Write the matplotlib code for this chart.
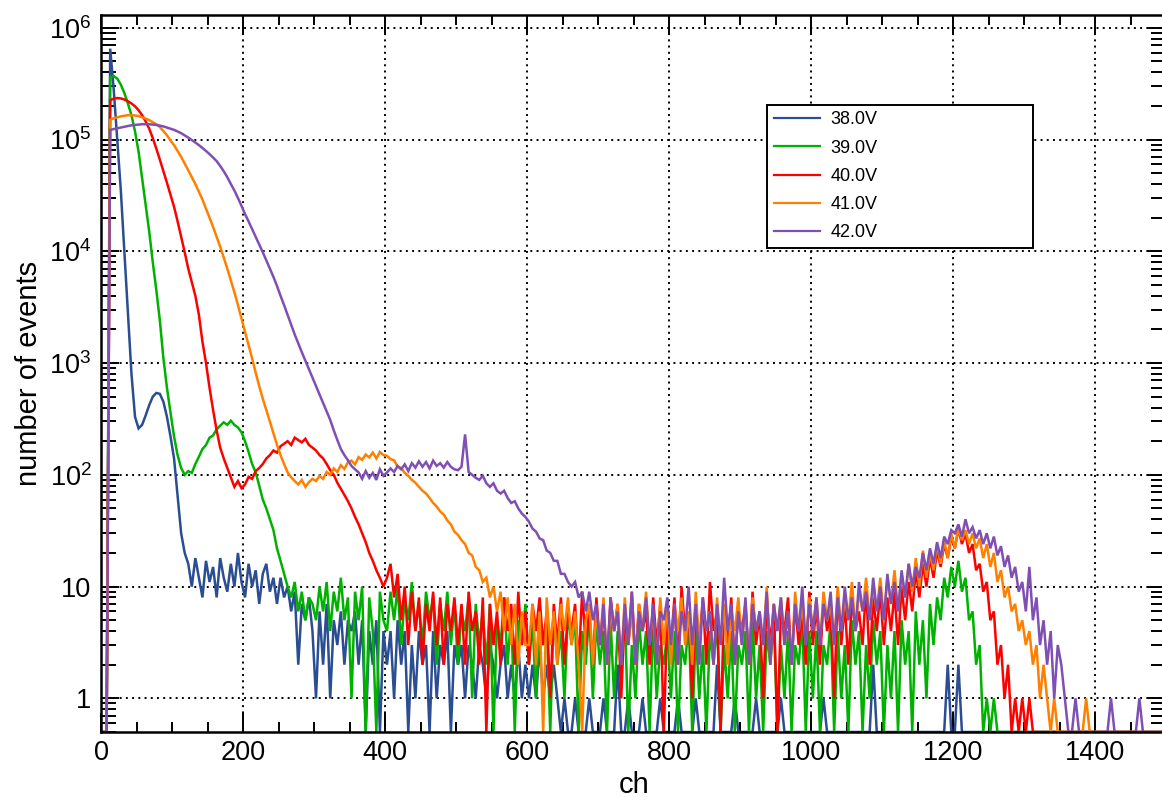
import matplotlib
matplotlib.use('Agg')
import matplotlib.pyplot as plt
import numpy as np
from matplotlib.lines import Line2D
from matplotlib.ticker import MultipleLocator, LogLocator, FixedLocator, FuncFormatter, NullFormatter

plt.rcParams['font.family'] = ['Liberation Sans', 'DejaVu Sans']
plt.rcParams['mathtext.fontset'] = 'custom'
plt.rcParams['mathtext.rm'] = 'Liberation Sans'
plt.rcParams['mathtext.it'] = 'Liberation Sans:italic'

# histogram contents, 5 channels per bin, ch 0 .. 1500
v38 = [0, 0, 650000, 280000, 100000, 35000, 10000, 2800, 800, 330, 260, 280, 340, 420, 500, 540, 530, 450, 330, 220,
       140, 65, 30, 20, 16, 10, 18, 12, 8, 17, 11, 15, 8, 18, 12, 9, 16, 10, 20, 11,
       8, 16, 10, 14, 7, 13, 16, 9, 12, 7, 12, 8, 10, 6, 9, 2, 7, 5, 8, 4,
       1, 6, 2, 7, 1, 5, 3, 6, 2, 5, 4, 6, 2, 5, 0, 4, 2, 5, 0, 4,
       2, 4, 1, 5, 2, 4, 0, 3, 1, 4, 2, 3, 0, 4, 1, 3, 2, 4, 0, 3,
       2, 3, 1, 3, 2, 1, 3, 2, 1, 3, 2, 1, 2, 3, 1, 2, 1, 3, 1, 2,
       1, 2, 1, 3, 1, 2, 1, 2, 1, 0, 1, 0, 0, 1, 0, 0, 0, 1, 0, 0,
       0, 1, 0, 0, 0, 2, 0, 0, 1, 0, 0, 0, 1, 0, 0, 0, 0, 1, 0, 0,
       0, 0, 1, 0, 0, 0, 0, 1, 0, 0, 0, 0, 0, 2, 0, 0, 0, 0, 1, 0,
       0, 0, 0, 0, 1, 0, 0, 0, 0, 0, 0, 1, 0, 0, 0, 0, 0, 0, 0, 0,
       0, 0, 0, 1, 0, 0, 0, 0, 0, 0, 0, 0, 0, 0, 0, 0, 0, 2, 0, 0,
       0, 0, 0, 0, 0, 0, 0, 0, 0, 0, 0, 0, 0, 0, 0, 0, 0, 0, 2, 0,
       0, 2, 0, 0, 0, 0, 0, 0, 0, 0, 0, 0, 0, 0, 0, 0, 0, 0, 0, 0,
       0, 0, 0, 0, 0, 0, 0, 0, 0, 0, 0, 0, 0, 0, 0, 0, 0, 0, 0, 0,
       0, 0, 0, 0, 0, 0, 0, 0, 0, 0, 0, 0, 0, 0, 0, 0, 0, 0, 0, 0]

v39 = [0, 0, 360000, 370000, 350000, 310000, 260000, 210000, 165000, 118000, 78000, 45000, 26000, 15000, 8000, 4500, 2400, 1100, 600, 360,
       220, 150, 115, 100, 108, 104, 125, 145, 170, 185, 215, 225, 255, 275, 295, 280, 305, 280, 265, 240,
       200, 160, 125, 105, 80, 60, 50, 40, 32, 22, 17, 13, 10, 8, 11, 6, 9, 5, 8, 7,
       5, 10, 6, 11, 4, 9, 6, 12, 5, 8, 1, 9, 5, 10, 0, 8, 4, 0, 9, 5,
       4, 9, 5, 10, 3, 8, 5, 11, 4, 7, 3, 9, 5, 8, 2, 7, 4, 9, 3, 7,
       2, 6, 4, 8, 1, 7, 3, 6, 2, 7, 0, 5, 3, 8, 2, 6, 0, 5, 3, 7,
       2, 5, 1, 6, 3, 5, 0, 6, 2, 4, 1, 6, 3, 5, 0, 4, 2, 6, 1, 5,
       2, 4, 0, 5, 1, 4, 2, 6, 0, 3, 1, 5, 2, 4, 0, 5, 1, 3, 2, 4,
       1, 4, 0, 3, 2, 5, 0, 4, 1, 3, 0, 4, 2, 5, 0, 3, 1, 4, 0, 3,
       2, 4, 0, 5, 1, 3, 0, 4, 2, 5, 0, 3, 1, 4, 0, 3, 2, 5, 0, 4,
       1, 4, 0, 3, 2, 5, 0, 4, 1, 3, 0, 5, 2, 4, 0, 3, 1, 5, 2, 4,
       0, 3, 1, 4, 0, 5, 2, 4, 0, 6, 2, 5, 1, 7, 3, 8, 5, 12, 8, 15,
       10, 17, 9, 12, 5, 6, 2, 3, 0, 1, 0, 1, 0, 0, 0, 0, 0, 0, 0, 0,
       0, 0, 0, 0, 0, 0, 0, 0, 0, 0, 0, 0, 0, 0, 0, 0, 0, 0, 0, 0,
       0, 0, 0, 0, 0, 0, 0, 0, 0, 0, 0, 0, 0, 0, 0, 0, 0, 0, 0, 0]

v40 = [0, 0, 225000, 232000, 235000, 233000, 228000, 220000, 210000, 198000, 183000, 165000, 145000, 125000, 103000, 83000, 66000, 52000, 41000, 32000,
       25000, 18500, 13500, 9800, 7000, 5300, 4000, 2700, 1550, 1000, 600, 380, 250, 175, 140, 115, 95, 78, 88, 76,
       82, 96, 92, 108, 115, 125, 140, 150, 165, 158, 180, 190, 200, 185, 215, 205, 195, 210, 185, 175,
       165, 150, 140, 125, 110, 100, 85, 75, 66, 58, 50, 42, 36, 30, 25, 20, 17, 14, 12, 10,
       12, 16, 8, 13, 5, 10, 3, 9, 4, 8, 2, 7, 4, 9, 3, 8, 2, 7, 4, 8,
       3, 7, 2, 9, 4, 6, 2, 8, 0, 7, 3, 6, 2, 8, 4, 7, 2, 9, 3, 6,
       2, 7, 4, 8, 3, 6, 1, 7, 3, 8, 2, 6, 4, 7, 2, 9, 3, 6, 2, 8,
       3, 6, 2, 8, 4, 7, 1, 6, 3, 9, 2, 7, 4, 6, 2, 8, 3, 7, 0, 6,
       3, 8, 2, 10, 4, 6, 1, 7, 3, 8, 2, 11, 4, 6, 0, 7, 3, 8, 2, 6,
       4, 7, 2, 9, 3, 6, 1, 8, 3, 7, 0, 6, 4, 8, 2, 7, 3, 6, 2, 9,
       3, 7, 2, 8, 4, 6, 1, 9, 3, 7, 2, 8, 4, 6, 3, 10, 2, 8, 4, 9,
       3, 8, 4, 9, 3, 10, 5, 11, 6, 14, 8, 16, 10, 18, 12, 21, 15, 24, 18, 28,
       22, 33, 24, 30, 20, 24, 14, 16, 9, 11, 5, 6, 2, 3, 1, 2, 0, 1, 0, 1,
       0, 1, 0, 0, 0, 0, 0, 0, 0, 0, 0, 0, 0, 0, 0, 0, 0, 0, 0, 0,
       0, 0, 0, 0, 0, 0, 0, 0, 0, 0, 0, 0, 0, 0, 0, 0, 0, 0, 0, 0]

v41 = [0, 0, 150000, 155000, 158000, 161000, 163000, 165000, 165000, 164000, 162000, 158000, 154000, 149000, 143000, 137000, 129000, 119000, 109000, 98000,
       89000, 79000, 70000, 61000, 53000, 46000, 40000, 34000, 29000, 24000, 20000, 16500, 13500, 11000, 8800, 7000, 5500, 4300, 3300, 2500,
       1900, 1450, 1100, 820, 620, 480, 380, 300, 235, 185, 150, 125, 105, 95, 88, 82, 90, 78, 86, 92,
       88, 98, 92, 106, 100, 114, 106, 122, 113, 130, 134, 124, 144, 136, 152, 143, 158, 140, 160, 150,
       148, 138, 135, 118, 115, 104, 98, 90, 85, 78, 72, 68, 62, 56, 52, 47, 44, 39, 36, 31,
       29, 26, 24, 20, 19, 15, 14, 11, 12, 8, 10, 6, 9, 4, 8, 3, 7, 2, 6, 3,
       3, 7, 2, 6, 0, 8, 3, 6, 2, 7, 4, 8, 3, 6, 2, 0, 5, 7, 2, 6,
       3, 8, 2, 6, 4, 7, 2, 8, 3, 6, 2, 7, 4, 9, 3, 6, 2, 8, 3, 7,
       2, 7, 4, 8, 3, 6, 2, 9, 3, 7, 4, 6, 2, 8, 3, 7, 2, 6, 4, 8,
       3, 7, 2, 8, 4, 6, 3, 10, 2, 7, 4, 8, 3, 6, 2, 9, 4, 7, 3, 8,
       4, 8, 3, 9, 5, 7, 3, 10, 4, 8, 5, 11, 4, 9, 6, 12, 5, 10, 6, 12,
       5, 12, 7, 14, 6, 13, 8, 16, 9, 18, 10, 21, 12, 20, 14, 24, 16, 26, 18, 30,
       22, 33, 26, 32, 24, 30, 22, 27, 18, 24, 15, 20, 11, 14, 8, 10, 6, 7, 4, 5,
       3, 4, 2, 3, 1, 2, 1, 0, 1, 0, 0, 0, 0, 0, 0, 0, 0, 1, 0, 0,
       0, 0, 0, 0, 0, 0, 0, 0, 0, 0, 0, 0, 0, 0, 0, 0, 0, 0, 0, 0]

v42 = [0, 0, 122000, 124000, 126000, 128000, 130000, 132000, 134000, 135000, 136000, 137000, 137000, 137000, 136000, 135000, 133000, 131000, 128000, 125000,
       122000, 118000, 114000, 109000, 104000, 99000, 94000, 89000, 84000, 79000, 74000, 69000, 64000, 58000, 52000, 46000, 40000, 35000, 30000, 25500,
       21500, 18500, 15800, 13500, 11500, 9800, 8300, 7000, 5900, 4900, 4000, 3300, 2700, 2200, 1800, 1500, 1250, 1050, 880, 740,
       620, 520, 440, 370, 310, 250, 205, 170, 150, 135, 120, 112, 105, 92, 108, 94, 104, 90, 112, 98,
       105, 114, 106, 120, 112, 124, 108, 127, 116, 132, 118, 130, 114, 134, 120, 127, 116, 130, 118, 112,
       110, 118, 230, 106, 100, 94, 90, 98, 84, 78, 84, 72, 68, 72, 62, 56, 58, 50, 45, 42,
       38, 33, 31, 27, 26, 21, 20, 17, 17, 13, 13, 11, 10, 11, 8, 9, 6, 9, 5, 7,
       3, 7, 2, 8, 4, 6, 2, 7, 3, 9, 2, 6, 4, 8, 3, 7, 2, 6, 5, 8,
       3, 7, 2, 6, 4, 10, 3, 7, 2, 8, 4, 6, 2, 7, 3, 12, 4, 7, 2, 6,
       3, 8, 2, 7, 4, 6, 3, 9, 2, 7, 4, 8, 3, 6, 2, 7, 4, 10, 3, 7,
       4, 8, 3, 7, 5, 9, 3, 8, 4, 10, 5, 8, 4, 11, 6, 9, 5, 12, 6, 10,
       5, 13, 7, 11, 6, 14, 8, 16, 10, 15, 12, 20, 14, 22, 16, 25, 18, 28, 24, 32,
       30, 36, 28, 40, 30, 34, 27, 32, 24, 30, 22, 28, 19, 23, 15, 19, 12, 15, 9, 11,
       6, 15, 5, 8, 3, 5, 2, 4, 1, 3, 2, 1, 0, 0, 1, 0, 0, 0, 0, 0,
       0, 0, 0, 0, 1, 0, 0, 0, 0, 0, 0, 0, 1, 0, 0, 0, 0, 0, 0, 0]

labels = ['38.0V', '39.0V', '40.0V', '41.0V', '42.0V']
colors = ['#2b4d92', '#00b200', '#ff0000', '#ff8000', '#7f4fb4']
series = [v38, v39, v40, v41, v42]
decades = [1, 10, 1e2, 1e3, 1e4, 1e5, 1e6]

ch_max = 1500
bin_w = 5
centers = np.arange(0, ch_max, bin_w) + bin_w / 2
ymin = 0.5

fig = plt.figure(figsize=(11.62, 7.97), dpi=100)
ax = fig.add_axes([101.3 / 1162, 65 / 797, 1064.7 / 1162, 717 / 797])

for vals, col in zip(series, colors):
    v = np.array(vals, dtype=float)
    v[v <= 0] = ymin  # empty bins drawn at the bottom like ROOT
    ax.plot(centers, v, color=col, lw=1.8, solid_joinstyle='miter')

ax.set_yscale('log')
ax.set_xlim(0, ch_max)
ax.set_ylim(ymin, 1.3e6)

ax.xaxis.set_major_locator(MultipleLocator(200))
ax.xaxis.set_minor_locator(MultipleLocator(50))
ax.yaxis.set_major_locator(FixedLocator(decades))
ax.yaxis.set_minor_locator(LogLocator(base=10, subs=np.arange(2, 10), numticks=20))

def ylab(v, pos):
    e = int(round(np.log10(v)))
    if e == 0:
        return '1'
    if e == 1:
        return '10'
    return r'$\mathregular{10^{%d}}$' % e

ax.yaxis.set_major_formatter(FuncFormatter(ylab))
ax.yaxis.set_minor_formatter(NullFormatter())

ax.tick_params(which='both', direction='in', top=True, right=True, width=1.4, labelsize=19.5)
ax.tick_params(axis='x', which='major', length=14, pad=6)
ax.tick_params(axis='x', which='minor', length=7)
ax.tick_params(axis='y', which='major', length=13, pad=7)
ax.tick_params(axis='y', which='minor', length=11)
for s in ax.spines.values():
    s.set_linewidth(1.8)

ax.set_axisbelow(True)
ax.grid(True, which='major', color='black', linestyle=(0, (1, 2.2)), linewidth=1.4)

ax.set_xlabel('ch', fontsize=21)
ax.xaxis.set_label_coords(0.5, -0.054)
ax.set_ylabel('number of events', fontsize=21)
ax.yaxis.set_label_coords(-0.055, 0.5)

handles = [Line2D([], [], color=c, lw=1.6) for c in colors]
leg = fig.legend(handles, labels, loc='upper left',
                 bbox_to_anchor=(767 / 1162, 1 - 239 / 797, 266 / 1162, 134 / 797),
                 bbox_transform=fig.transFigure, mode='expand', borderaxespad=0,
                 fontsize=13, handlelength=2.6, handletextpad=0.55,
                 labelspacing=0.62, borderpad=0.36, fancybox=False,
                 edgecolor='black', framealpha=1)
leg.get_frame().set_linewidth(1.4)

plt.savefig('out.png', dpi=100)
